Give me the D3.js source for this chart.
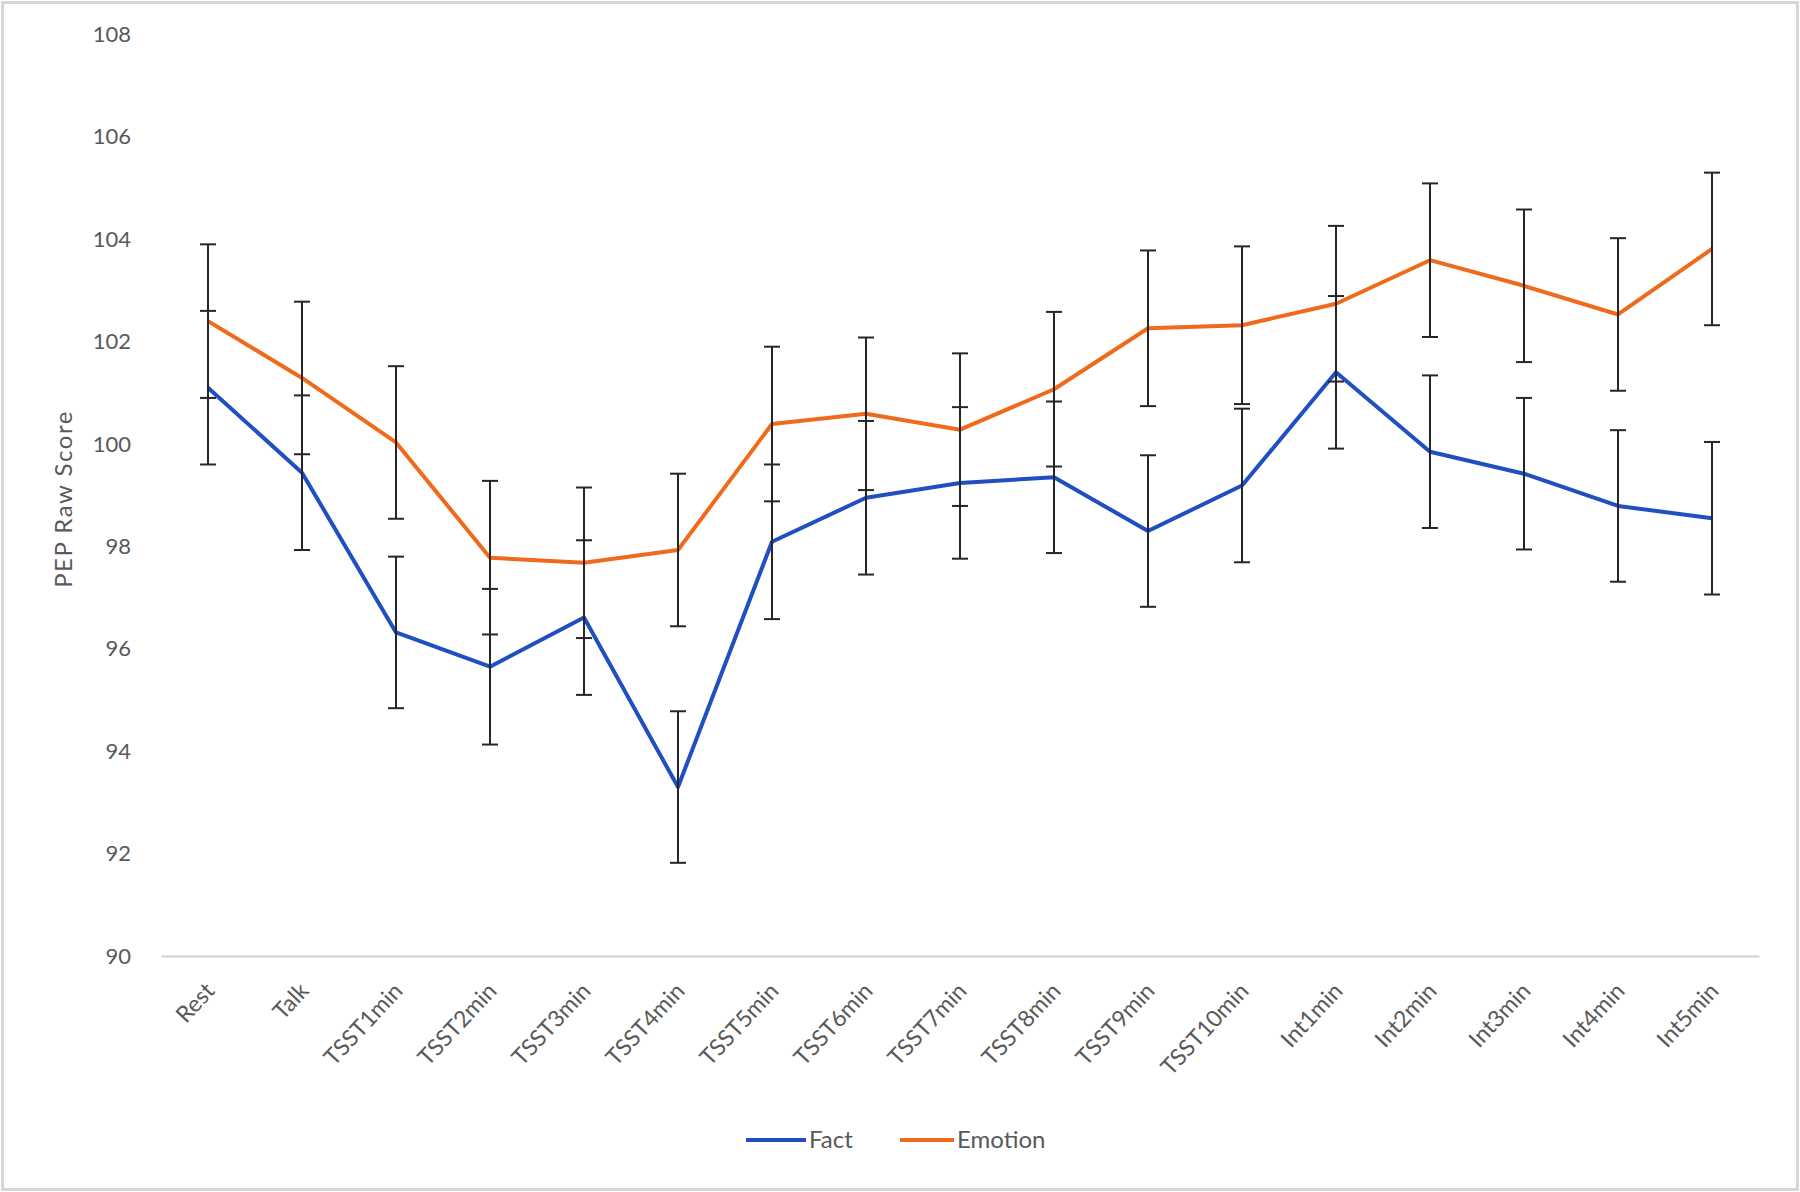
<!DOCTYPE html>
<html>
<head>
<meta charset="utf-8">
<script src="https://cdn.jsdelivr.net/npm/d3@7"></script>
<style>
  html, body { margin: 0; padding: 0; background: #fff; }
  svg { display: block; }
  text { font-family: Lato, "Open Sans", sans-serif; }
</style>
</head>
<body>
<svg id="chart" width="1800" height="1192"></svg>
<script>
const categories = ["Rest","Talk","TSST1min","TSST2min","TSST3min","TSST4min","TSST5min","TSST6min","TSST7min","TSST8min","TSST9min","TSST10min","Int1min","Int2min","Int3min","Int4min","Int5min"];
const factMean = [101.10, 99.44, 96.32, 95.65, 96.61, 93.30, 98.09, 98.95, 99.24, 99.35, 98.30, 99.19, 101.40, 99.85, 99.42, 98.79, 98.55];
const factErr  = [1.50, 1.51, 1.48, 1.52, 1.51, 1.48, 1.51, 1.50, 1.48, 1.48, 1.48, 1.50, 1.49, 1.49, 1.48, 1.48, 1.49];
const emoMean  = [102.40, 101.29, 100.03, 97.78, 97.68, 97.93, 100.39, 100.59, 100.28, 101.07, 102.26, 102.32, 102.74, 103.59, 103.09, 102.53, 103.81];
const emoErr   = [1.50, 1.49, 1.49, 1.50, 1.47, 1.49, 1.51, 1.49, 1.49, 1.51, 1.52, 1.54, 1.52, 1.50, 1.49, 1.49, 1.49];
const yTicks = [90, 92, 94, 96, 98, 100, 102, 104, 106, 108];
const seriesNames = ["Fact", "Emotion"];
const seriesColors = ["#1f4fc0", "#f06a1c"];

(function () {
const svg = d3.select("#chart");
const W = 1800, H = 1192;

svg.append("rect").attr("x", 2.5).attr("y", 2.5).attr("width", W - 5).attr("height", H - 5)
  .attr("fill", "#fff").attr("stroke", "#d6d6d6").attr("stroke-width", 3);

const mLeft = 161, mRight = 1759, mTop = 34.4, mBottom = 956;
const x = d3.scaleBand().domain(categories).range([mLeft, mRight]);
const y = d3.scaleLinear().domain([90, 108]).range([mBottom, mTop]);
const cx = d => x(d) + x.bandwidth() / 2;

const yAxis = d3.axisLeft(y).tickValues(yTicks).tickSize(0).tickPadding(0);
const gy = svg.append("g").attr("transform", `translate(${mLeft - 30},0)`).call(yAxis);
gy.select(".domain").remove();
gy.selectAll("text").attr("fill", "#595959").style("font-size", "22px").style("font-family", "Lato, sans-serif");

const xAxis = d3.axisBottom(x).tickSize(0).tickPadding(0);
const gx = svg.append("g").attr("transform", `translate(0,${mBottom})`).call(xAxis);
gx.select(".domain").attr("stroke", "#d0d0d0").attr("stroke-width", 2);
gx.selectAll("text")
  .attr("fill", "#595959")
  .style("font-size", "23px")
  .style("font-family", "Lato, sans-serif")
  .attr("text-anchor", "end")
  .attr("dy", "0")
  .attr("y", 0)
  .attr("transform", "translate(8,36) rotate(-47)");

svg.append("text")
  .attr("transform", `translate(72,499) rotate(-90)`)
  .attr("text-anchor", "middle")
  .attr("fill", "#595959")
  .style("font-size", "24px")
  .style("letter-spacing", "1.5px")
  .text("PEP Raw Score");

const series = [
  { name: seriesNames[0], mean: factMean, err: factErr, color: seriesColors[0] },
  { name: seriesNames[1], mean: emoMean, err: emoErr, color: seriesColors[1] }
];

const line = d3.line().x((d, i) => cx(categories[i])).y(d => y(d));

series.forEach(s => {
  svg.append("path").datum(s.mean)
    .attr("fill", "none").attr("stroke", s.color).attr("stroke-width", 4)
    .attr("stroke-linejoin", "round")
    .attr("d", line);
});

const capW = 8;
series.forEach(s => {
  const g = svg.append("g").attr("stroke", "#262626").attr("stroke-width", 2);
  s.mean.forEach((m, i) => {
    const xx = cx(categories[i]);
    g.append("line").attr("x1", xx).attr("x2", xx).attr("y1", y(m - s.err[i])).attr("y2", y(m + s.err[i]));
    g.append("line").attr("x1", xx - capW).attr("x2", xx + capW).attr("y1", y(m + s.err[i])).attr("y2", y(m + s.err[i]));
    g.append("line").attr("x1", xx - capW).attr("x2", xx + capW).attr("y1", y(m - s.err[i])).attr("y2", y(m - s.err[i]));
  });
});

const legendY = 1140;
const legendItems = [
  { x: 746, len: 60, s: series[0] },
  { x: 900, len: 54, s: series[1] }
];
legendItems.forEach(it => {
  svg.append("line").attr("x1", it.x).attr("x2", it.x + it.len).attr("y1", legendY).attr("y2", legendY)
    .attr("stroke", it.s.color).attr("stroke-width", 4);
  svg.append("text").attr("x", it.x + it.len + 3).attr("y", legendY + 8).attr("fill", "#595959")
    .style("font-size", "24px").text(it.s.name);
});
})();
</script>
</body>
</html>
